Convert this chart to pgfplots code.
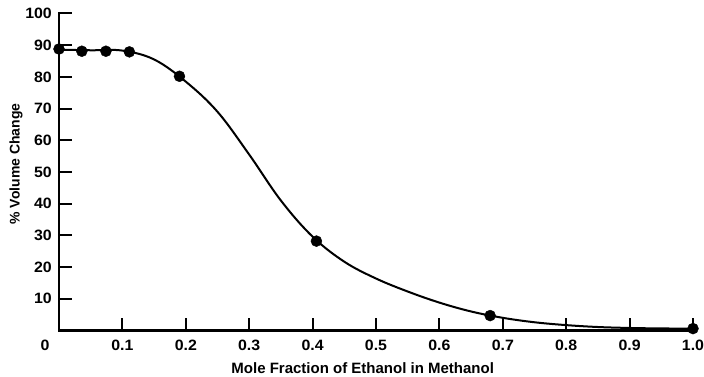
\documentclass[border=0pt]{standalone}
\usepackage{fontspec}
\setmainfont{Liberation Sans}
\newfontfamily\tickfont[FakeStretch=1.06]{Liberation Sans}
\usepackage{pgfplots}
\pgfplotsset{compat=1.18}
\begin{document}
\begin{tikzpicture}
\begin{axis}[
  at={(0,0)}, anchor=south west,
  scale only axis,
  width=634bp, height=317bp,
  xmin=0, xmax=1, ymin=0, ymax=100,
  axis line style={draw=none},
  clip=false,
  xtick pos=left, ytick pos=left,
  major tick length=13bp,
  tick style={black, line width=2bp},
  xtick={0.1,0.2,0.3,0.4,0.5,0.6,0.7,0.8,0.9,1.0},
  xticklabels={0.1,0.2,0.3,0.4,0.5,0.6,0.7,0.8,0.9,1.0},
  ytick={10,20,30,40,50,60,70,80,90,100},
  yticklabels={10,20,30,40,50,60,70,80,90,100},
  /pgf/number format/assume math mode=true,
  xticklabel style={font=\tickfont\bfseries\fontsize{15bp}{15bp}\selectfont, inner sep=0pt, anchor=north, yshift=-9.5bp},
  yticklabel style={font=\tickfont\bfseries\fontsize{15bp}{15bp}\selectfont, inner sep=0pt, anchor=east, xshift=-7bp},
  tick align=inside,
]
\addplot[black, line width=2bp, smooth, tension=0.6] coordinates {
  (0,88.6) (0.05,88.4) (0.10,88.3) (0.15,85.5) (0.20,78.5)
  (0.25,69.0) (0.30,55.5) (0.35,41.0) (0.40,29.6) (0.45,21.7)
  (0.50,16.4) (0.55,12.3) (0.60,8.8) (0.65,6.0) (0.70,4.0)
  (0.75,2.6) (0.80,1.7) (0.85,1.1) (0.90,0.8) (0.95,0.65) (1.00,0.6)
};
\addplot[only marks, mark=*, mark size=5.5bp, black] coordinates {
  (0,88.8) (0.036,88.1) (0.074,88.1) (0.111,87.9) (0.19,80.2)
  (0.406,28.2) (0.68,4.7) (1.0,0.6)
};
\draw[line width=2.2bp, line cap=rect] (rel axis cs:0,1) -- (rel axis cs:0,0) -- (rel axis cs:1,0);
\node[font=\tickfont\bfseries\fontsize{15bp}{15bp}\selectfont, inner sep=0pt, anchor=north]
  at ([xshift=-14bp, yshift=-9.5bp]axis cs:0,0) {0};
\node[font=\bfseries\fontsize{15bp}{15bp}\selectfont, inner sep=0pt, anchor=base]
  at ([yshift=-42.5bp]axis cs:0.479,0) {Mole Fraction of Ethanol in Methanol};
\node[font=\bfseries\fontsize{14bp}{14bp}\selectfont, inner sep=0pt, rotate=90]
  at ([xshift=-43bp]axis cs:0,52.5) {\% Volume Change};
\end{axis}
\pgfresetboundingbox
\path[use as bounding box] (-59bp,-46.5bp) rectangle (645bp,330.5bp);
\end{tikzpicture}
\end{document}
